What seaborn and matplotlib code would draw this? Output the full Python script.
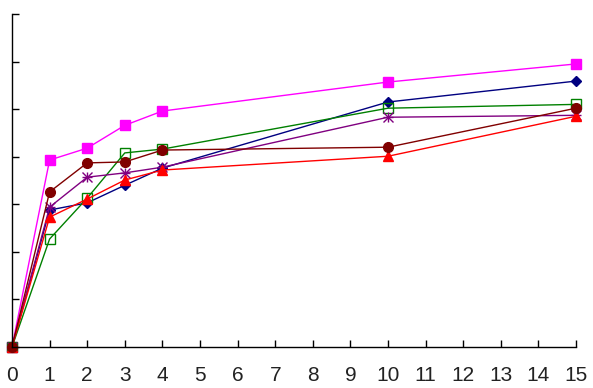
import matplotlib
matplotlib.use("Agg")
import matplotlib.pyplot as plt
import seaborn as sns
import pandas as pd

x_vals = [0, 1, 2, 3, 4, 10, 15]
magenta = [0, 3.93, 4.18, 4.66, 4.96, 5.57, 5.95]
navy = [0, 2.88, 3.03, 3.40, 3.76, 5.15, 5.59]
green = [0, 2.27, 3.13, 4.08, 4.16, 5.02, 5.10]
purple = [0, 2.94, 3.57, 3.66, 3.78, 4.83, 4.87]
red = [0, 2.73, 3.11, 3.51, 3.72, 4.01, 4.85]
darkred = [0, 3.26, 3.87, 3.89, 4.14, 4.20, 5.02]

series = [
    ("magenta", magenta, "#FF00FF", "s", "#FF00FF"),
    ("navy", navy, "#000080", "D", "#000080"),
    ("green", green, "#008000", "s", "none"),
    ("purple", purple, "#800080", "x", "#800080"),
    ("red", red, "#FF0000", "^", "#FF0000"),
    ("darkred", darkred, "#800000", "o", "#800000"),
]

sns.set_theme(style="white")
plt.rcParams['font.family'] = ['Liberation Sans', 'DejaVu Sans']

fig = plt.figure(figsize=(5.93, 3.88), dpi=100)
ax = fig.add_axes([12/593, 41/388, 564/593, 333/388])

for name, vals, col, mk, fc in series:
    df = pd.DataFrame({"x": x_vals, "y": vals})
    ms = 5 if mk == "D" else 7
    sns.lineplot(data=df, x="x", y="y", ax=ax, color=col, linewidth=1.0,
                 marker=mk, markersize=ms, markerfacecolor=fc,
                 markeredgecolor=col, markeredgewidth=1.0, clip_on=False)
    if mk == "x":
        ax.plot(x_vals, vals, linestyle="none", marker="+", markersize=7,
                color=col, markeredgewidth=1.0, clip_on=False)

ax.set_xlim(0, 15)
ax.set_ylim(0, 7)
ax.set_xticks(range(0, 16))
ax.set_yticks(range(0, 8))
ax.set_yticklabels([])
ax.set_xlabel("")
ax.set_ylabel("")
for s in ["top", "right"]:
    ax.spines[s].set_visible(False)
for s in ["left", "bottom"]:
    ax.spines[s].set_color("#000000")
    ax.spines[s].set_linewidth(1.0)
ax.tick_params(axis="x", direction="in", length=5, width=1, color="#000000",
               labelsize=15, labelcolor="#222222", pad=14, bottom=True)
ax.tick_params(axis="y", direction="in", length=5, width=1, color="#000000",
               left=True)
ax.grid(False)
ax.legend_ = None

fig.savefig("out.png", dpi=100)
